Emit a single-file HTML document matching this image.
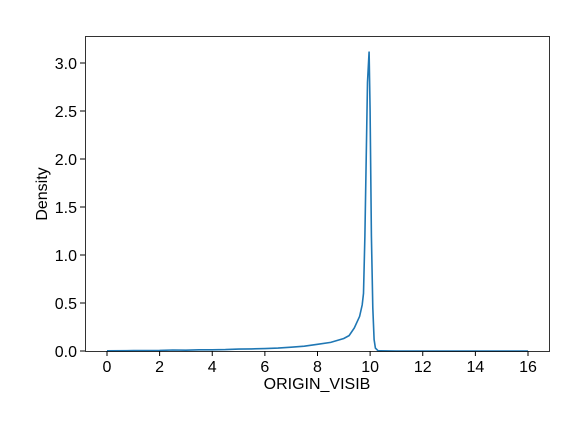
<!DOCTYPE html>
<html><head><meta charset="utf-8"><style>
body{margin:0;background:#fff}
svg text{font-family:"Liberation Sans","DejaVu Sans",sans-serif;fill:#000}
</style></head><body>
<svg id="chart" width="584" height="429">
<rect width="584" height="429" fill="#fff"/>
<g id="axes"></g>
<path id="curve" fill="none" stroke="#1f77b4" stroke-width="1.6"/>
<rect x="85.5" y="36.5" width="464" height="315" fill="none" stroke="#000" stroke-width="0.8"/>
<text x="317" y="389" font-size="16" text-anchor="middle">ORIGIN_VISIB</text>
<text transform="translate(47,194) rotate(-90)" font-size="16" text-anchor="middle">Density</text>
</svg>
<script>
const xTicks=[0,2,4,6,8,10,12,14,16];
const yTicks=[0.0,0.5,1.0,1.5,2.0,2.5,3.0];
const xs=[0,1,2,2.5,3,3.5,4,4.5,5,5.5,6,6.5,7,7.5,8,8.5,9,9.2,9.4,9.6,9.7,9.75,9.8,9.85,9.9,9.96,10,10.05,10.1,10.15,10.2,10.3,11,12,14,16];
const ys=[0.002,0.004,0.006,0.01,0.008,0.012,0.012,0.015,0.02,0.022,0.025,0.03,0.04,0.05,0.07,0.09,0.13,0.16,0.24,0.36,0.48,0.6,1.2,2.0,2.8,3.12,2.5,1.2,0.45,0.12,0.03,0.003,0,0,0,0];
const sx=v=>107+v*(528-107)/16;
const sy=v=>351-v*(351-63)/3;
const ns="http://www.w3.org/2000/svg";
const g=document.getElementById('axes');
xTicks.forEach(t=>{
 const l=document.createElementNS(ns,'line');
 l.setAttribute('x1',sx(t));l.setAttribute('x2',sx(t));l.setAttribute('y1',351);l.setAttribute('y2',356);l.setAttribute('stroke','#000');
 
 
 g.appendChild(l);
 const tx=document.createElementNS(ns,'text');
 tx.setAttribute('x',sx(t));tx.setAttribute('y',372);tx.setAttribute('font-size','16');tx.setAttribute('text-anchor','middle');tx.textContent=t;
 
 
 g.appendChild(tx);
});
yTicks.forEach(t=>{
 const l=document.createElementNS(ns,'line');
 l.setAttribute('x1',80);l.setAttribute('x2',85);l.setAttribute('y1',sy(t));l.setAttribute('y2',sy(t));l.setAttribute('stroke','#000');
 
 
 g.appendChild(l);
 const tx=document.createElementNS(ns,'text');
 tx.setAttribute('x',77);tx.setAttribute('y',sy(t)+6);tx.setAttribute('font-size','16');tx.setAttribute('text-anchor','end');tx.textContent=t.toFixed(1);
 
 
 g.appendChild(tx);
});
document.getElementById('curve').setAttribute('d',xs.map((x,i)=>(i?'L':'M')+sx(x).toFixed(1)+','+sy(ys[i]).toFixed(1)).join(''));
</script>
</body></html>
